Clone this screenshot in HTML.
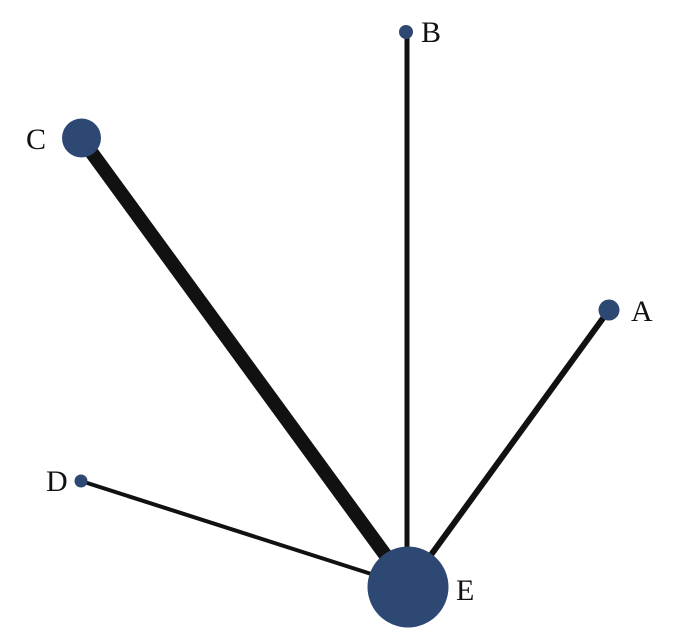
<!DOCTYPE html>
<html><head><style>html,body{margin:0;padding:0;background:#fff}svg{display:block}</style></head>
<body>
<svg width="697" height="635" viewBox="0 0 697 635" xmlns="http://www.w3.org/2000/svg">
<g stroke="#111" stroke-linecap="butt">
<line x1="81" y1="138" x2="400" y2="575" stroke-width="14"/>
<line x1="407" y1="32" x2="407" y2="560" stroke-width="5"/>
<line x1="609" y1="310" x2="420" y2="570" stroke-width="6"/>
<line x1="81" y1="481" x2="390" y2="580" stroke-width="4"/>
</g>
<g fill="#2e4874">
<circle cx="408" cy="587" r="40.5"/>
<circle cx="81.5" cy="138" r="19.5"/>
<circle cx="609" cy="310" r="10.5"/>
<circle cx="406" cy="32" r="7"/>
<circle cx="81" cy="481" r="6.5"/>
</g>
<g font-family="Liberation Serif, serif" font-size="30" fill="#111">
<text x="421" y="42">B</text>
<text x="26" y="149">C</text>
<text x="631" y="321">A</text>
<text x="46" y="491">D</text>
<text x="456" y="600">E</text>
</g>
</svg>
</body></html>
